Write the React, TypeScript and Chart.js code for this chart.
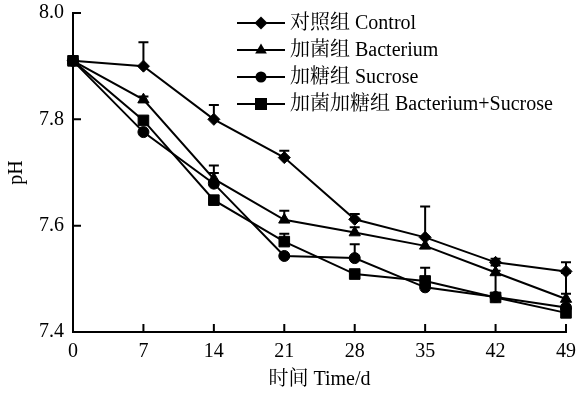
import React, { useEffect, useRef } from 'react';
import { Chart, registerables } from 'chart.js';

Chart.register(...registerables);

const days = [0, 7, 14, 21, 28, 35, 42, 49];
const xTickValues = [0, 7, 14, 21, 28, 35, 42, 49];
const yTickValues = [7.4, 7.6, 7.8, 8.0];
const seriesNames = ['对照组 Control', '加菌组 Bacterium', '加糖组 Sucrose', '加菌加糖组 Bacterium+Sucrose'];
const markerStyles = ['rectRot', 'triangle', 'circle', 'rect'];

const control = [7.91, 7.9, 7.8, 7.728, 7.612, 7.578, 7.531, 7.514];
const controlErr = [0, 0.045, 0.027, 0.013, 0.01, 0.058, 0.007, 0.017];
const bacterium = [7.91, 7.837, 7.688, 7.611, 7.587, 7.562, 7.512, 7.462];
const bacteriumErr = [0, 0.006, 0.025, 0.017, 0.01, 0, 0.013, 0.01];
const sucrose = [7.91, 7.776, 7.679, 7.543, 7.539, 7.484, 7.466, 7.446];
const sucroseErr = [0, 0, 0.02, 0, 0.026, 0, 0, 0];
const mixed = [7.91, 7.798, 7.648, 7.57, 7.509, 7.496, 7.465, 7.436];
const mixedErr = [0, 0, 0, 0.015, 0, 0.025, 0.05, 0.075];

const seriesValues = [control, bacterium, sucrose, mixed];
const seriesErrors = [controlErr, bacteriumErr, sucroseErr, mixedErr];
const markerRadius = [6, 6.5, 5.5, 7.5];

const FONT = "'Liberation Serif', 'Times New Roman', 'Noto Serif CJK SC', 'Noto Sans CJK SC', serif";

function drawMarker(ctx: CanvasRenderingContext2D, style: string, x: number, y: number) {
  ctx.beginPath();
  if (style === 'rectRot') {
    const r = 6.5;
    ctx.moveTo(x, y - r);
    ctx.lineTo(x + r, y);
    ctx.lineTo(x, y + r);
    ctx.lineTo(x - r, y);
    ctx.closePath();
  } else if (style === 'triangle') {
    const r = 6.5;
    ctx.moveTo(x, y - r);
    ctx.lineTo(x + r * 0.9, y + r * 0.55);
    ctx.lineTo(x - r * 0.9, y + r * 0.55);
    ctx.closePath();
  } else if (style === 'circle') {
    ctx.arc(x, y, 5.5, 0, Math.PI * 2);
  } else {
    ctx.rect(x - 6, y - 6, 12, 12);
  }
  ctx.fill();
}

const errorBarPlugin = {
  id: 'errorBars',
  beforeDatasetsDraw(chart: any) {
    const ctx = chart.ctx;
    const xs = chart.scales.x;
    const ys = chart.scales.y;
    ctx.save();
    ctx.strokeStyle = '#000';
    ctx.lineWidth = 2;
    seriesErrors.forEach((errs, si) => {
      errs.forEach((e, i) => {
        if (!e) return;
        const x = xs.getPixelForValue(days[i]);
        const y0 = ys.getPixelForValue(seriesValues[si][i]);
        const y1 = ys.getPixelForValue(seriesValues[si][i] + e);
        ctx.beginPath();
        ctx.moveTo(x, y0);
        ctx.lineTo(x, y1);
        ctx.moveTo(x - 5, y1);
        ctx.lineTo(x + 5, y1);
        ctx.stroke();
      });
    });
    ctx.restore();
  },
};

const innerTicksPlugin = {
  id: 'innerTicks',
  afterDraw(chart: any) {
    const ctx = chart.ctx;
    const xs = chart.scales.x;
    const ys = chart.scales.y;
    const area = chart.chartArea;
    ctx.save();
    ctx.strokeStyle = '#000';
    ctx.lineWidth = 2;
    ctx.beginPath();
    xTickValues.forEach((v) => {
      const x = xs.getPixelForValue(v);
      ctx.moveTo(x, area.bottom);
      ctx.lineTo(x, area.bottom - 8);
    });
    yTickValues.forEach((v) => {
      const y = ys.getPixelForValue(v);
      ctx.moveTo(area.left, y);
      ctx.lineTo(area.left + 8, y);
    });
    ctx.stroke();
    ctx.restore();
  },
};

const legendPlugin = {
  id: 'customLegend',
  afterDraw(chart: any) {
    const ctx = chart.ctx;
    ctx.save();
    ctx.fillStyle = '#000';
    ctx.strokeStyle = '#000';
    ctx.lineWidth = 2;
    ctx.font = `20px ${FONT}`;
    ctx.textBaseline = 'middle';
    seriesNames.forEach((name, i) => {
      const y = 23 + 27 * i;
      ctx.beginPath();
      ctx.moveTo(237, y);
      ctx.lineTo(285, y);
      ctx.stroke();
      drawMarker(ctx, markerStyles[i], 261, y);
      ctx.fillText(name, 290, y + 1);
    });
    ctx.restore();
  },
};

export default function App() {
  const ref = useRef<HTMLCanvasElement>(null);
  useEffect(() => {
    if (!ref.current) return;
    const chart = new Chart(ref.current, {
      type: 'line',
      data: {
        datasets: seriesNames.map((name, i) => ({
          label: name,
          data: days.map((d, j) => ({ x: d, y: seriesValues[i][j] })),
          borderColor: '#000',
          backgroundColor: '#000',
          borderWidth: 2,
          pointStyle: markerStyles[i] as any,
          pointRadius: markerRadius[i],
          pointBorderWidth: 1,
          pointBackgroundColor: '#000',
          pointBorderColor: '#000',
          tension: 0,
          clip: false as any,
        })),
      },
      options: {
        responsive: false,
        animation: false,
        layout: { padding: { left: 0, top: 13, right: 13, bottom: 0 } },
        plugins: {
          legend: { display: false },
          tooltip: { enabled: false },
        },
        scales: {
          x: {
            type: 'linear',
            min: 0,
            max: 49,
            afterFit: (s: any) => { s.height = 64; s.paddingLeft = 0; s.paddingRight = 0; },
            afterBuildTicks: (s: any) => { s.ticks = xTickValues.map((v) => ({ value: v })); },
            grid: { display: false, drawTicks: false },
            border: { display: true, color: '#000', width: 2 },
            ticks: { color: '#000', font: { family: FONT, size: 20 }, padding: 8, maxRotation: 0 },
            title: { display: true, text: '时间 Time/d', color: '#000', font: { family: FONT, size: 20 }, padding: { top: 0, bottom: 4 } },
          },
          y: {
            type: 'linear',
            min: 7.4,
            max: 8.0,
            afterFit: (s: any) => { s.width = 73; s.paddingTop = 0; s.paddingBottom = 0; },
            afterBuildTicks: (s: any) => { s.ticks = yTickValues.map((v) => ({ value: v })); },
            grid: { display: false, drawTicks: false },
            border: { display: true, color: '#000', width: 2 },
            ticks: { color: '#000', font: { family: FONT, size: 20 }, padding: 9, callback: (v: any) => Number(v).toFixed(1) },
            title: { display: true, text: 'pH', color: '#000', font: { family: FONT, size: 20 }, padding: { top: 5, bottom: 0 } },
          },
        },
      },
      plugins: [errorBarPlugin, innerTicksPlugin, legendPlugin],
    });
    return () => chart.destroy();
  }, []);
  return (
    <div style={{ position: 'absolute', left: 0, top: 0, width: 579, height: 396, background: '#fff' }}>
      <canvas ref={ref} width={579} height={396} />
    </div>
  );
}
